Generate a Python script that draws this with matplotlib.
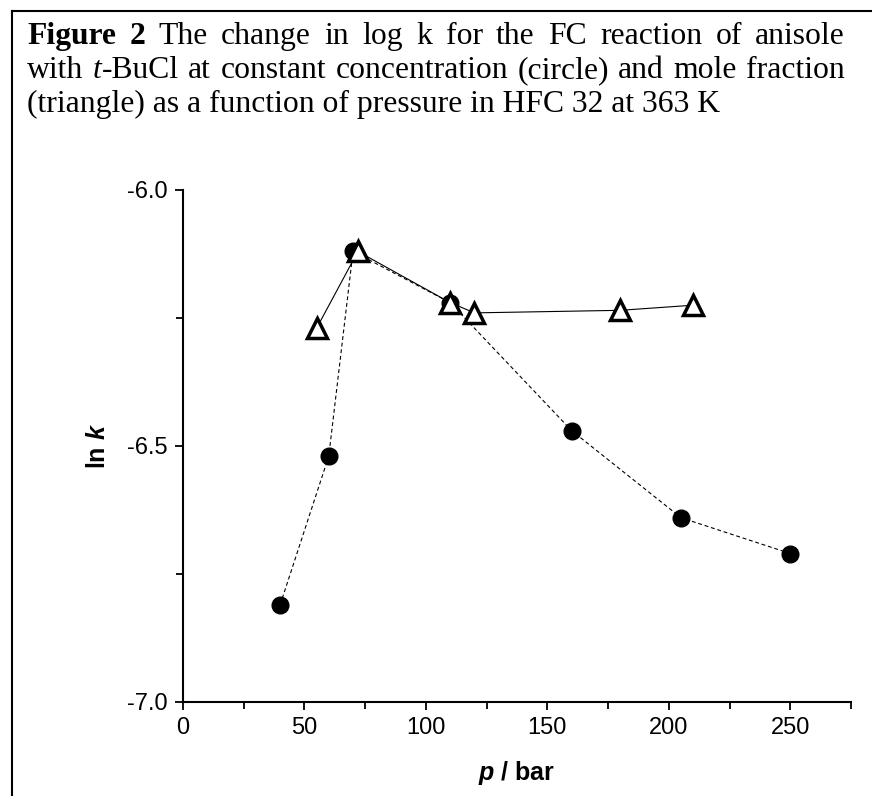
import matplotlib
matplotlib.use("Agg")
import matplotlib.pyplot as plt
from matplotlib.lines import Line2D
from matplotlib.ticker import MultipleLocator, FormatStrFormatter

# constant concentration (circles)
conc_p = [40, 60, 70, 110, 160, 205, 250]
conc_lnk = [-6.81, -6.52, -6.12, -6.22, -6.47, -6.64, -6.71]

# constant mole fraction (triangles)
frac_p = [55, 72, 110, 120, 180, 210]
frac_lnk = [-6.27, -6.12, -6.22, -6.24, -6.235, -6.225]

caption_lines = [
    [("Figure", "bold"), ("2", "bold"), ("The", ""), ("change", ""), ("in", ""),
     ("log", ""), ("k", ""), ("for", ""), ("the", ""), ("FC", ""),
     ("reaction", ""), ("of", ""), ("anisole", "")],
    [("with", ""), ("t|-BuCl", "italic"), ("at", ""), ("constant", ""),
     ("concentration", ""), ("(circle)", ""), ("and", ""), ("mole", ""),
     ("fraction", "")],
    [("(triangle) as a function of pressure in HFC 32 at 363 K", "")],
]

W, H = 872, 796
plt.rcParams["axes.unicode_minus"] = False
plt.rcParams["mathtext.fontset"] = "custom"
plt.rcParams["mathtext.bfit"] = "Liberation Sans:bold:italic"
plt.rcParams["mathtext.it"] = "Liberation Sans:italic"
plt.rcParams["mathtext.bf"] = "Liberation Sans:bold"
plt.rcParams["mathtext.rm"] = "Liberation Sans:bold"

fig = plt.figure(figsize=(W / 100, H / 100), dpi=100)
ax = fig.add_axes([183 / W, 1 - 702 / H, (851 - 183) / W, (702 - 190) / H])

ax.plot(conc_p, conc_lnk, ls=(0, (3.5, 2.5)), lw=0.8, color="black",
        marker="o", ms=12, mfc="black", mec="black", zorder=2)
ax.plot(frac_p, frac_lnk, ls="-", lw=0.8, color="black",
        marker="^", ms=14, mfc="white", mec="black", mew=2.5, zorder=3)

ax.set_xlim(0, 275)
ax.set_ylim(-7.0, -6.0)
ax.xaxis.set_major_locator(MultipleLocator(50))
ax.xaxis.set_minor_locator(MultipleLocator(25))
ax.yaxis.set_major_locator(MultipleLocator(0.5))
ax.yaxis.set_minor_locator(MultipleLocator(0.25))
ax.yaxis.set_major_formatter(FormatStrFormatter("%.1f"))

for s in ["top", "right"]:
    ax.spines[s].set_visible(False)
for s in ["left", "bottom"]:
    ax.spines[s].set_linewidth(1.5)
ax.tick_params(which="major", direction="out", length=6, width=1.3,
               labelsize=17, pad=5)
ax.tick_params(which="minor", direction="out", length=5, width=1.3)
for lab in ax.get_xticklabels() + ax.get_yticklabels():
    lab.set_family("Liberation Sans")

ax.set_xlabel(r"$\mathbfit{p}$ / bar", fontsize=18, fontweight="bold",
              family="Liberation Sans", labelpad=14)
ax.set_ylabel(r"ln $\mathbfit{k}$", fontsize=18, fontweight="bold",
              family="Liberation Sans", labelpad=12)

# frame around the figure (top and left only)
fig.add_artist(Line2D([12 / W, 1], [1 - 11 / H, 1 - 11 / H],
                      transform=fig.transFigure, color="black", lw=1.5))
fig.add_artist(Line2D([12 / W, 12 / W], [1 - 11 / H, 0],
                      transform=fig.transFigure, color="black", lw=1.5))

# caption, justified like the source document
renderer = fig.canvas.get_renderer()
cap_size = 22.8
x_left, x_right = 27, 845
baselines = [44, 78, 112]


def word_parts(word, style):
    # "t|-BuCl": first part italic, rest normal
    if "|" in word:
        a, b = word.split("|")
        return [(a, "italic"), (b, "")]
    return [(word, style)]


def draw_parts(parts, x, y):
    for txt, st in parts:
        t = fig.text(x / W, 1 - y / H, txt, family="Liberation Serif",
                     fontsize=cap_size, va="baseline", ha="left",
                     fontweight="bold" if st == "bold" else "normal",
                     fontstyle="italic" if st == "italic" else "normal")
        x += t.get_window_extent(renderer).width
    return x


def measure(parts):
    w = 0
    for txt, st in parts:
        t = fig.text(0, 0, txt, family="Liberation Serif", fontsize=cap_size,
                     fontweight="bold" if st == "bold" else "normal",
                     fontstyle="italic" if st == "italic" else "normal")
        w += t.get_window_extent(renderer).width
        t.remove()
    return w


for i, line in enumerate(caption_lines):
    words = [word_parts(w, s) for w, s in line]
    y = baselines[i]
    if len(words) == 1:
        draw_parts(words[0], x_left, y)
        continue
    widths = [measure(p) for p in words]
    gap = (x_right - x_left - sum(widths)) / (len(words) - 1)
    x = x_left
    for p, w in zip(words, widths):
        draw_parts(p, x, y)
        x += w + gap

fig.savefig("out.png", dpi=100)
